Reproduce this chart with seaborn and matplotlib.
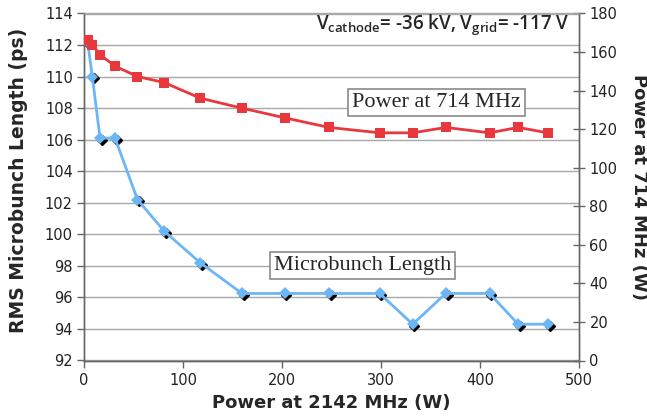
import matplotlib
matplotlib.use("Agg")
import matplotlib.pyplot as plt
import matplotlib.transforms as mtransforms
import seaborn as sns
import pandas as pd

# ---- data ----
power_2142 = [3.7, 8.4, 16.2, 31.4, 54, 81, 117.4, 159.6, 202.7, 247.5,
              298.6, 332, 365.4, 409.6, 438.6, 468.6]
microbunch_len = [112.2, 110.0, 106.1, 106.1, 102.2, 100.2, 98.2, 96.25, 96.25,
                  96.25, 96.25, 94.3, 96.25, 96.25, 94.3, 94.3]
power_714 = [166, 163.8, 158.6, 152.7, 147.3, 144.2, 136.1, 130.9, 125.9, 120.9,
             118.1, 118.1, 120.9, 118.1, 120.9, 118.1]

x_ticks = [0, 100, 200, 300, 400, 500]
left_ticks = [92, 94, 96, 98, 100, 102, 104, 106, 108, 110, 112, 114]
right_ticks = [0, 20, 40, 60, 80, 100, 120, 140, 160, 180]

df = pd.DataFrame({"p2142": power_2142, "len": microbunch_len, "p714": power_714})

sns.set_theme(style="white")
plt.rcParams["font.family"] = ["DejaVu Sans"]

RED = "#e8383d"
BLUE = "#6cb6f7"
GRID = "#a8a8a8"
SPINE = "#666666"

fig = plt.figure(figsize=(6.47, 4.20), dpi=100)
ax = fig.add_axes([84 / 647, 1 - 360.5 / 420, (579 - 84) / 647, (360.5 - 13.5) / 420])

ax.set_xlim(0, 500)
ax.set_ylim(92, 114)
ax.set_yticks(left_ticks)
ax.set_xticks(x_ticks)
ax.yaxis.grid(True, color=GRID, lw=1.0)
ax.xaxis.grid(False)
ax.set_axisbelow(True)

# black shadow marks under the blue diamonds
shadow = mtransforms.offset_copy(ax.transData, fig=fig, x=1.8, y=-1.8, units="dots")
ax.plot(df["p2142"], df["len"], linestyle="none", marker="D", ms=5.0,
        color="black", transform=shadow, zorder=2)
sns.lineplot(data=df, x="p2142", y="len", ax=ax, color=BLUE, lw=2.0,
             marker="D", markersize=6.3, markeredgewidth=0, zorder=3)

ax2 = ax.twinx()
ax2.set_ylim(0, 180)
ax2.set_yticks(right_ticks)
sns.lineplot(data=df, x="p2142", y="p714", ax=ax2, color=RED, lw=2.0,
             marker="s", markersize=7.5, markeredgewidth=0, zorder=3)
ax2.grid(False)

# spines
for a in (ax, ax2):
    for s in a.spines.values():
        s.set_color(SPINE)
        s.set_linewidth(1.0)
    a.spines["top"].set_color(GRID)

ax.tick_params(axis="y", direction="out", length=5, width=1, color=SPINE,
               labelsize=10.5, pad=3, left=True, labelcolor="#222222")
ax.tick_params(axis="x", direction="out", length=5, width=1, color=SPINE,
               labelsize=10.5, pad=4, bottom=True, labelcolor="#222222")
ax2.tick_params(axis="y", direction="inout", length=9, width=1, color=SPINE,
                labelsize=10.5, pad=3, right=True, labelcolor="#222222")

ax.set_xlabel("Power at 2142 MHz (W)", fontsize=13, fontweight="bold", labelpad=4)
ax.set_ylabel("RMS Microbunch Length (ps)", fontsize=13.5, fontweight="bold")
ax.yaxis.set_label_coords(-0.113, 0.52)
ax2.set_ylabel("Power at 714 MHz (W)", fontsize=13, fontweight="bold",
               rotation=270, labelpad=22)

# boxed labels
box = dict(boxstyle="square,pad=0.18", fc="white", ec="#8a8a8a", lw=1.2)
ax.text(356, 108.36, "Power at 714 MHz", fontsize=16, family="Liberation Serif",
        ha="center", va="center", bbox=box, zorder=5)
ax.text(281.4, 98.05, "Microbunch Length", fontsize=16, family="Liberation Serif",
        ha="center", va="center", bbox=box, zorder=5)

ax2.text(490, 174.3,
         r"V$_{\mathregular{cathode}}$= -36 kV, V$_{\mathregular{grid}}$= -117 V",
         fontsize=13.5, family="Open Sans", fontweight="semibold",
         ha="right", va="center", zorder=6, transform=ax2.transData)

fig.savefig("out.png", dpi=100, facecolor="white")
